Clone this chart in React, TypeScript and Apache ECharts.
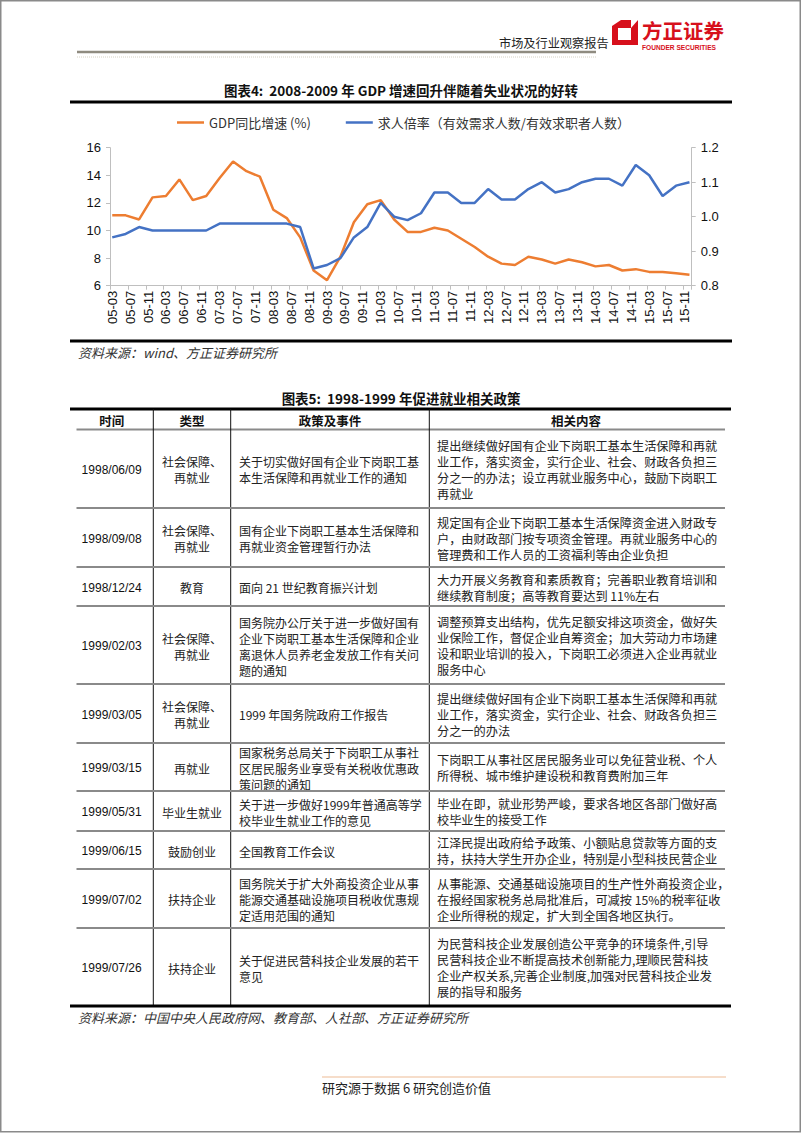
import React, { useEffect, useRef } from "react";
import * as echarts from "echarts";

// ---------- chart data ----------
const quarterLabels = [
  "05-03", "05-06", "05-09", "05-12",
  "06-03", "06-06", "06-09", "06-12",
  "07-03", "07-06", "07-09", "07-12",
  "08-03", "08-06", "08-09", "08-12",
  "09-03", "09-06", "09-09", "09-12",
  "10-03", "10-06", "10-09", "10-12",
  "11-03", "11-06", "11-09", "11-12",
  "12-03", "12-06", "12-09", "12-12",
  "13-03", "13-06", "13-09", "13-12",
  "14-03", "14-06", "14-09", "14-12",
  "15-03", "15-06", "15-09", "15-12",
];
const gdpGrowth = [
  11.1, 11.1, 10.8, 12.4,
  12.5, 13.7, 12.2, 12.5,
  13.8, 15.0, 14.3, 13.9,
  11.5, 10.9, 9.5, 7.1,
  6.4, 8.1, 10.6, 11.9,
  12.2, 10.8, 9.9, 9.9,
  10.2, 10.0, 9.4, 8.8,
  8.1, 7.6, 7.5, 8.1,
  7.9, 7.6, 7.9, 7.7,
  7.4, 7.5, 7.1, 7.2,
  7.0, 7.0, 6.9, 6.8,
];
const jobRatio = [
  0.94, 0.95, 0.97, 0.96,
  0.96, 0.96, 0.96, 0.96,
  0.98, 0.98, 0.98, 0.98,
  0.98, 0.98, 0.97, 0.85,
  0.86, 0.88, 0.94, 0.97,
  1.04, 1.0, 0.99, 1.01,
  1.07, 1.07, 1.04, 1.04,
  1.08, 1.05, 1.05, 1.08,
  1.1, 1.07, 1.08, 1.1,
  1.11, 1.11, 1.09, 1.15,
  1.12, 1.06, 1.09, 1.1,
];
const seriesNames = ["GDP同比增速 (%)", "求人倍率（有效需求人数/有效求职者人数）"];

// ---------- table data ----------
const tableHeaders = ["时间", "类型", "政策及事件", "相关内容"];
const rowDates = [
  "1998/06/09", "1998/09/08", "1998/12/24", "1999/02/03", "1999/03/05",
  "1999/03/15", "1999/05/31", "1999/06/15", "1999/07/02", "1999/07/26",
];
const rowTypes = [
  "社会保障、\n再就业", "社会保障、\n再就业", "教育", "社会保障、\n再就业", "社会保障、\n再就业",
  "再就业", "毕业生就业", "鼓励创业", "扶持企业", "扶持企业",
];
const rowPolicies = [
  "关于切实做好国有企业下岗职工基\n本生活保障和再就业工作的通知",
  "国有企业下岗职工基本生活保障和\n再就业资金管理暂行办法",
  "面向 21 世纪教育振兴计划",
  "国务院办公厅关于进一步做好国有\n企业下岗职工基本生活保障和企业\n离退休人员养老金发放工作有关问\n题的通知",
  "1999 年国务院政府工作报告",
  "国家税务总局关于下岗职工从事社\n区居民服务业享受有关税收优惠政\n策问题的通知",
  "关于进一步做好1999年普通高等学\n校毕业生就业工作的意见",
  "全国教育工作会议",
  "国务院关于扩大外商投资企业从事\n能源交通基础设施项目税收优惠规\n定适用范围的通知",
  "关于促进民营科技企业发展的若干\n意见",
];
const rowContents = [
  "提出继续做好国有企业下岗职工基本生活保障和再就\n业工作，落实资金，实行企业、社会、财政各负担三\n分之一的办法；设立再就业服务中心，鼓励下岗职工\n再就业",
  "规定国有企业下岗职工基本生活保障资金进入财政专\n户，由财政部门按专项资金管理。再就业服务中心的\n管理费和工作人员的工资福利等由企业负担",
  "大力开展义务教育和素质教育；完善职业教育培训和\n继续教育制度；高等教育要达到 11%左右",
  "调整预算支出结构，优先足额安排这项资金，做好失\n业保险工作，督促企业自筹资金；加大劳动力市场建\n设和职业培训的投入，下岗职工必须进入企业再就业\n服务中心",
  "提出继续做好国有企业下岗职工基本生活保障和再就\n业工作，落实资金，实行企业、社会、财政各负担三\n分之一的办法",
  "下岗职工从事社区居民服务业可以免征营业税、个人\n所得税、城市维护建设税和教育费附加三年",
  "毕业在即，就业形势严峻，要求各地区各部门做好高\n校毕业生的接受工作",
  "江泽民提出政府给予政策、小额贴息贷款等方面的支\n持，扶持大学生开办企业，特别是小型科技民营企业",
  "从事能源、交通基础设施项目的生产性外商投资企业，\n在报经国家税务总局批准后，可减按 15%的税率征收\n企业所得税的规定，扩大到全国各地区执行。",
  "为民营科技企业发展创造公平竞争的环境条件,引导\n民营科技企业不断提高技术创新能力,理顺民营科技\n企业产权关系,完善企业制度,加强对民营科技企业发\n展的指导和服务",
];

// ---------- layout ----------
const COLS = [70, 153.3, 230.7, 429.3, 731];
const TABLE_TOP = 409;
const HEADER_BOTTOM = 429.5;
const ROW_BOTTOMS = [508, 567, 606, 684, 743, 791, 831, 869, 928, 1006];

const CJK = '"Noto Sans CJK SC", "Noto Sans", sans-serif';
const LAT = '"Liberation Sans", Arial, sans-serif';

const txt = (x: number, y: number, text: string, o: any = {}) => ({
  type: "text",
  x,
  y,
  silent: true,
  style: {
    text,
    fontSize: o.size || 12,
    fontFamily: o.family || CJK,
    fontWeight: o.weight || "normal",
    fontStyle: o.style || "normal",
    fill: o.fill || "#222",
    align: o.align || "left",
    textAlign: o.align || "left",
    verticalAlign: "middle",
    textVerticalAlign: "middle",
    lineHeight: o.lh || 16,
  },
});
const ln = (x1: number, y1: number, x2: number, y2: number, stroke: string, w: number, dash?: number[]) => ({
  type: "line",
  silent: true,
  shape: { x1, y1, x2, y2 },
  style: { stroke, lineWidth: w, lineDash: dash || null },
});

function buildGraphic() {
  const g: any[] = [];
  // page border
  g.push({ type: "rect", silent: true, shape: { x: 0.75, y: 0.75, width: 799.5, height: 1131 }, style: { fill: null, stroke: "#8a8a8a", lineWidth: 1.5 } });
  // header
  g.push(ln(77, 52, 596, 52, "#8f8b80", 2.5));
  g.push(ln(77, 57, 596, 57, "#d6d2c4", 1, [1, 1]));
  g.push(txt(499, 43, "市场及行业观察报告", { size: 12.2, fill: "#222" }));
  g.push({ type: "polygon", silent: true, shape: { points: [[612, 26], [621, 20], [638, 20], [638, 45], [612, 45]] }, style: { fill: "#d7101c" } });
  g.push({ type: "polygon", silent: true, shape: { points: [[618, 28], [631, 28], [631, 40], [618, 40]] }, style: { fill: "#fff" } });
  g.push({ type: "polygon", silent: true, shape: { points: [[631, 20], [638, 20], [631, 28]] }, style: { fill: "#fff" } });
  g.push(txt(642, 30, "方正证券", { size: 20.5, weight: "bold", fill: "#d7101c" }));
  g.push(txt(642, 47, "FOUNDER SECURITIES", { size: 6.6, weight: "bold", fill: "#d7101c", family: LAT }));

  // chart frame
  g.push(txt(401, 90, "图表4:  2008-2009 年 GDP 增速回升伴随着失业状况的好转", { size: 13.5, weight: "bold", align: "center", fill: "#111" }));
  g.push(ln(70, 102, 732, 102, "#000", 3));
  g.push(ln(70, 341, 732, 341, "#000", 3));
  g.push(txt(78, 352, "资料来源：wind、方正证券研究所", { size: 13, style: "italic", fill: "#333" }));

  // table
  g.push(txt(401, 398, "图表5:  1998-1999 年促进就业相关政策", { size: 13.5, weight: "bold", align: "center", fill: "#111" }));
  g.push(ln(70, TABLE_TOP, 731, TABLE_TOP, "#000", 3));
  const headCenters = [(COLS[0] + COLS[1]) / 2, (COLS[1] + COLS[2]) / 2, (COLS[2] + COLS[3]) / 2, 576];
  tableHeaders.forEach((h, i) => g.push(txt(headCenters[i], (TABLE_TOP + HEADER_BOTTOM) / 2 + 1, h, { size: 12.5, weight: "bold", align: "center", fill: "#111" })));
  g.push(ln(76.5, HEADER_BOTTOM, 725, HEADER_BOTTOM, "#8a8a8a", 2));
  for (let c = 1; c <= 3; c++) g.push(ln(COLS[c], TABLE_TOP, COLS[c], ROW_BOTTOMS[ROW_BOTTOMS.length - 1], "#111", 1));
  let top = HEADER_BOTTOM;
  rowDates.forEach((d, i) => {
    const bottom = ROW_BOTTOMS[i];
    const cy = (top + bottom) / 2 + 1;
    g.push(txt(headCenters[0], cy, d, { size: 12, family: LAT, align: "center", fill: "#111" }));
    g.push(txt(headCenters[1], cy, rowTypes[i], { size: 12, align: "center" }));
    g.push(txt(239, cy, rowPolicies[i], { size: 12 }));
    g.push(txt(437, cy, rowContents[i], { size: 12.2 }));
    if (i < rowDates.length - 1) g.push(ln(76.5, bottom, 725, bottom, "#8a8a8a", 2));
    top = bottom;
  });
  g.push(ln(70, ROW_BOTTOMS[ROW_BOTTOMS.length - 1], 731, ROW_BOTTOMS[ROW_BOTTOMS.length - 1], "#000", 3));
  g.push(txt(78, 1017, "资料来源：中国中央人民政府网、教育部、人社部、方正证券研究所", { size: 13, style: "italic", fill: "#333" }));

  // footer
  g.push(ln(322, 1077, 726, 1077, "#f3d2b8", 1.5));
  g.push(txt(322, 1087, "研究源于数据 6 研究创造价值", { size: 13, fill: "#222" }));
  return g;
}

export default function App() {
  const ref = useRef<HTMLDivElement>(null);
  useEffect(() => {
    if (!ref.current) return;
    const chart = echarts.init(ref.current, null, { renderer: "svg" });

    const monthCats: string[] = [];
    for (let y = 2005; y <= 2015; y++) {
      for (let m = 1; m <= 12; m++) {
        if (y === 2005 && m < 3) continue;
        monthCats.push(`${String(y).slice(2)}-${String(m).padStart(2, "0")}`);
      }
    }
    const toMonthly = (vals: number[]) =>
      monthCats.map((c) => {
        const i = quarterLabels.indexOf(c);
        return i >= 0 ? vals[i] : null;
      });

    const axisGray = "#bfbfbf";
    chart.setOption({
      animation: false,
      backgroundColor: "#fff",
      textStyle: { fontFamily: CJK },
      legend: {
        top: 111,
        left: 172,
        icon: "rect",
        itemWidth: 27,
        itemHeight: 2.5,
        itemGap: 35,
        textStyle: { fontSize: 13, color: "#333", fontFamily: CJK },
        data: seriesNames,
      },
      grid: { left: 110, top: 147.7, width: 581.7, height: 138, containLabel: false },
      xAxis: {
        type: "category",
        data: monthCats,
        boundaryGap: true,
        axisLine: { lineStyle: { color: axisGray, width: 1 } },
        axisTick: { show: true, interval: 3, length: 4, lineStyle: { color: axisGray } },
        axisLabel: { interval: 3, rotate: 90, margin: 5, fontSize: 13, color: "#111", fontFamily: LAT },
        splitLine: { show: false },
      },
      yAxis: [
        {
          type: "value",
          min: 6,
          max: 16,
          interval: 2,
          position: "left",
          axisLine: { show: true, lineStyle: { color: axisGray } },
          axisTick: { show: true, length: 4, lineStyle: { color: axisGray } },
          axisLabel: { margin: 9, fontSize: 13, color: "#111", fontFamily: LAT },
          splitLine: { show: false },
        },
        {
          type: "value",
          min: 0.8,
          max: 1.2,
          interval: 0.1,
          position: "right",
          axisLine: { show: true, lineStyle: { color: axisGray } },
          axisTick: { show: true, length: 4, lineStyle: { color: axisGray } },
          axisLabel: { margin: 9, fontSize: 13, color: "#111", fontFamily: LAT, formatter: (v: number) => v.toFixed(1) },
          splitLine: { show: false },
        },
      ],
      series: [
        {
          name: seriesNames[0],
          type: "line",
          yAxisIndex: 0,
          data: toMonthly(gdpGrowth),
          connectNulls: true,
          showSymbol: false,
          symbol: "none",
          lineStyle: { color: "#ED7D31", width: 2.5 },
          itemStyle: { color: "#ED7D31" },
        },
        {
          name: seriesNames[1],
          type: "line",
          yAxisIndex: 1,
          data: toMonthly(jobRatio),
          connectNulls: true,
          showSymbol: false,
          symbol: "none",
          lineStyle: { color: "#4472C4", width: 2.5 },
          itemStyle: { color: "#4472C4" },
        },
      ],
      graphic: { elements: buildGraphic() },
    });
    return () => chart.dispose();
  }, []);
  return (
    <div style={{ position: "absolute", left: 0, top: 0, width: 802, height: 1133, background: "#fff" }}>
      <div ref={ref} style={{ width: 802, height: 1133 }} />
    </div>
  );
}
